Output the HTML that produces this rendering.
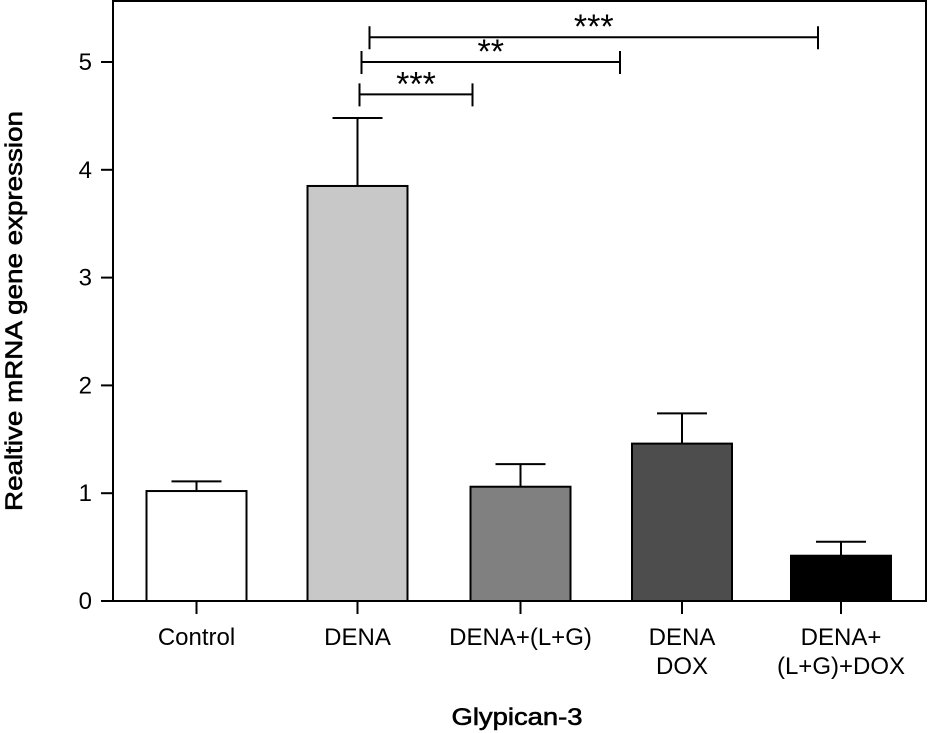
<!DOCTYPE html>
<html><head><meta charset="utf-8"><style>
html,body{margin:0;padding:0;background:#fff;}
svg{display:block;font-family:"Liberation Sans","DejaVu Sans",sans-serif;}
</style></head><body>
<svg id="chart" width="928" height="733" viewBox="0 0 928 733" xmlns="http://www.w3.org/2000/svg">
<rect x="113" y="1" width="813" height="600" fill="none" stroke="#000" stroke-width="2"/>
<g id="bars"></g>
<g id="yaxis"></g>
<g id="xaxis"></g>
<g id="sig"></g>
<text transform="translate(22,311) rotate(-90)" text-anchor="middle" font-size="24" textLength="400" lengthAdjust="spacingAndGlyphs" fill="#000" stroke="#000" stroke-width="0.6">Realtive mRNA gene expression</text>
<text x="517" y="725" text-anchor="middle" font-size="24" textLength="131" lengthAdjust="spacingAndGlyphs" fill="#000" stroke="#000" stroke-width="0.6">Glypican-3</text>
</svg>
<script>
const categories=[["Control"],["DENA"],["DENA+(L+G)"],["DENA","DOX"],["DENA+","(L+G)+DOX"]];
const values=[1.02,3.85,1.06,1.46,0.42];
const errors=[0.09,0.63,0.21,0.28,0.13];
const colors=["#ffffff","#c8c8c8","#808080","#4d4d4d","#000000"];
const yTicks=[0,1,2,3,4,5];
const sigFrom=[1,1,1];
const sigTo=[2,3,4];
const sigLevel=[4.7,5.0,5.23];
const sigLabel=["***","**","***"];
const NS="http://www.w3.org/2000/svg";
const y0=601,pxPer=107.8;
const yS=v=>y0-v*pxPer;
const centers=[196.5,357.5,520.5,682,841];
const xS=i=>centers[i];
const bw=100;
const startOff=[2,4,12];
const endOff=[-48,-62,-23];
function mk(tag,attrs,parent){const e=document.createElementNS(NS,tag);for(const k in attrs)e.setAttribute(k,attrs[k]);parent.appendChild(e);return e;}
const gb=document.getElementById('bars'),gy=document.getElementById('yaxis'),gx=document.getElementById('xaxis'),gs=document.getElementById('sig');
values.forEach((v,i)=>{
  const cx=xS(i);
  const top=yS(v+errors[i]);
  const el=mk('line',{x1:cx,x2:cx,y1:top,y2:yS(v),stroke:'#000','stroke-width':2},gb);
  
  
  const cap=mk('line',{x1:cx-25,x2:cx+25,y1:top,y2:top,stroke:'#000','stroke-width':2},gb);
  
  
  const r=mk('rect',{x:cx-bw/2,y:yS(v),width:bw,height:y0-yS(v),fill:colors[i],stroke:'#000','stroke-width':2},gb);
  
  
  const t=mk('line',{x1:cx,x2:cx,y1:y0,y2:y0+13,stroke:'#000','stroke-width':2},gx);
  
  
  categories[i].forEach((ln,j)=>{
    const tx=mk('text',{x:cx,y:645+j*29,'text-anchor':'middle','font-size':24,fill:'#000'},gx);
    tx.textContent=ln;
    
    
  });
});
yTicks.forEach(v=>{
  const y=yS(v);
  const t=mk('line',{x1:101,x2:113,y1:y,y2:y,stroke:'#000','stroke-width':2},gy);
  
  
  const tx=mk('text',{x:92,y:y+8,'text-anchor':'end','font-size':24,fill:'#000'},gy);
  tx.textContent=v;
  
  
});
sigFrom.forEach((f,k)=>{
  const y=yS(sigLevel[k]);
  const x1=xS(f)+startOff[k], x2=xS(sigTo[k])+endOff[k];
  const l=mk('path',{d:`M${x1},${y-11}V${y+12}M${x1},${y}H${x2}M${x2},${y-11}V${y+12}`,stroke:'#000','stroke-width':2,fill:'none'},gs);
  
  
  const tx=mk('text',{x:(x1+x2)/2,y:y+1,'text-anchor':'middle','font-size':34,fill:'#000'},gs);
  tx.textContent=sigLabel[k];
  
  
});
</script>
</body></html>
